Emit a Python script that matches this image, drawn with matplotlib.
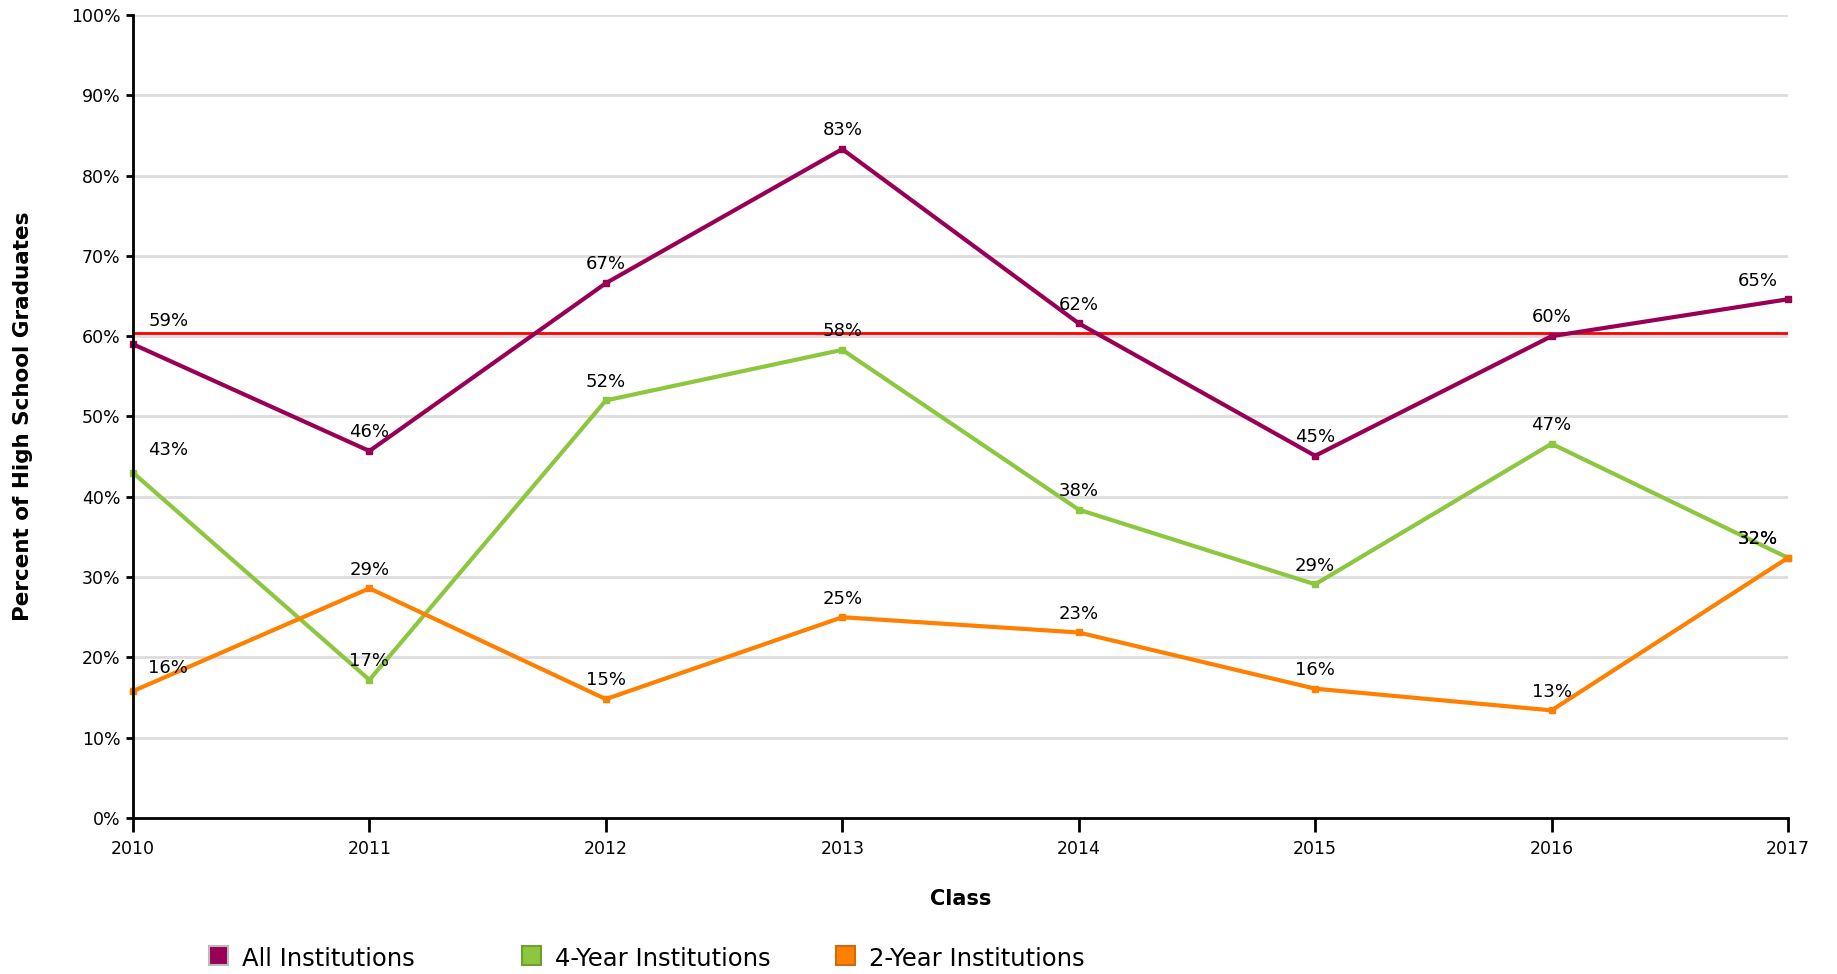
import matplotlib
matplotlib.use('Agg')
import matplotlib.pyplot as plt
from matplotlib.patches import Rectangle
from matplotlib.ticker import FuncFormatter

# data
years = [2010, 2011, 2012, 2013, 2014, 2015, 2016, 2017]
all_inst = [59.0, 45.7, 66.6, 83.3, 61.6, 45.1, 60.0, 64.6]
four_year = [43.0, 17.2, 52.0, 58.3, 38.4, 29.1, 46.6, 32.4]
two_year = [15.8, 28.6, 14.8, 25.0, 23.1, 16.1, 13.4, 32.4]
target = 60.4

series_names = ['All Institutions', '4-Year Institutions', '2-Year Institutions']
series_values = [all_inst, four_year, two_year]
series_colors = ['#990055', '#8DC63F', '#FF8000']
series_edges = ['#BBBBBB', '#6FA02F', '#D06A10']

fig = plt.figure(figsize=(18.37, 9.74), dpi=100)
ax = fig.add_axes([0.0724, 0.1602, 0.9009, 0.8244])

for y in range(10, 101, 10):
    ax.axhline(y, color='#DDDDDD', linewidth=2, zorder=1)

ax.axhline(target, color='#FF0000', linewidth=2, zorder=2)

for name, vals, col in zip(series_names, series_values, series_colors):
    ax.plot(years, vals, color=col, linewidth=3, marker='s', markersize=5,
            clip_on=False, zorder=3, label=name)
    for i, (x, v) in enumerate(zip(years, vals)):
        if i == 0:
            ax.annotate('{:.0f}%'.format(v), xy=(x, v), xytext=(11, 10),
                        textcoords='offset points', ha='left', va='bottom', fontsize=13)
        elif i == len(years) - 1:
            ax.annotate('{:.0f}%'.format(v), xy=(x, v), xytext=(-7, 7),
                        textcoords='offset points', ha='right', va='bottom', fontsize=13)
        else:
            ax.annotate('{:.0f}%'.format(v), xy=(x, v), xytext=(0, 7),
                        textcoords='offset points', ha='center', va='bottom', fontsize=13)

ax.set_xlim(years[0], years[-1])
ax.set_ylim(0, 100)
ax.set_xticks(years)
ax.set_yticks(range(0, 101, 10))
ax.yaxis.set_major_formatter(FuncFormatter(lambda v, p: '{:.0f}%'.format(v)))
ax.tick_params(axis='y', length=5, width=2, labelsize=12.5, pad=4)
ax.tick_params(axis='x', length=10, width=2, labelsize=12.5, pad=6)

for s in ['top', 'right']:
    ax.spines[s].set_visible(False)
for s in ['left', 'bottom']:
    ax.spines[s].set_linewidth(2)
    ax.spines[s].set_zorder(4)

ax.set_xlabel('Class', fontsize=15, fontweight='bold', labelpad=22)
ax.set_ylabel('Percent of High School Graduates', fontsize=15.5, fontweight='bold', labelpad=27)

# legend drawn by hand to keep the original spacing
leg_x = [209, 522, 836]
for lx, name, col, ec in zip(leg_x, series_names, series_colors, series_edges):
    fig.add_artist(Rectangle((lx / 1837, 1 - 965 / 974), 19 / 1837, 19 / 974,
                             transform=fig.transFigure, facecolor=col,
                             edgecolor=ec, linewidth=1.5))
    fig.text((lx + 33) / 1837, 1 - 966 / 974, name, fontsize=17.5,
             ha='left', va='baseline')

fig.savefig('out.png', dpi=100)
